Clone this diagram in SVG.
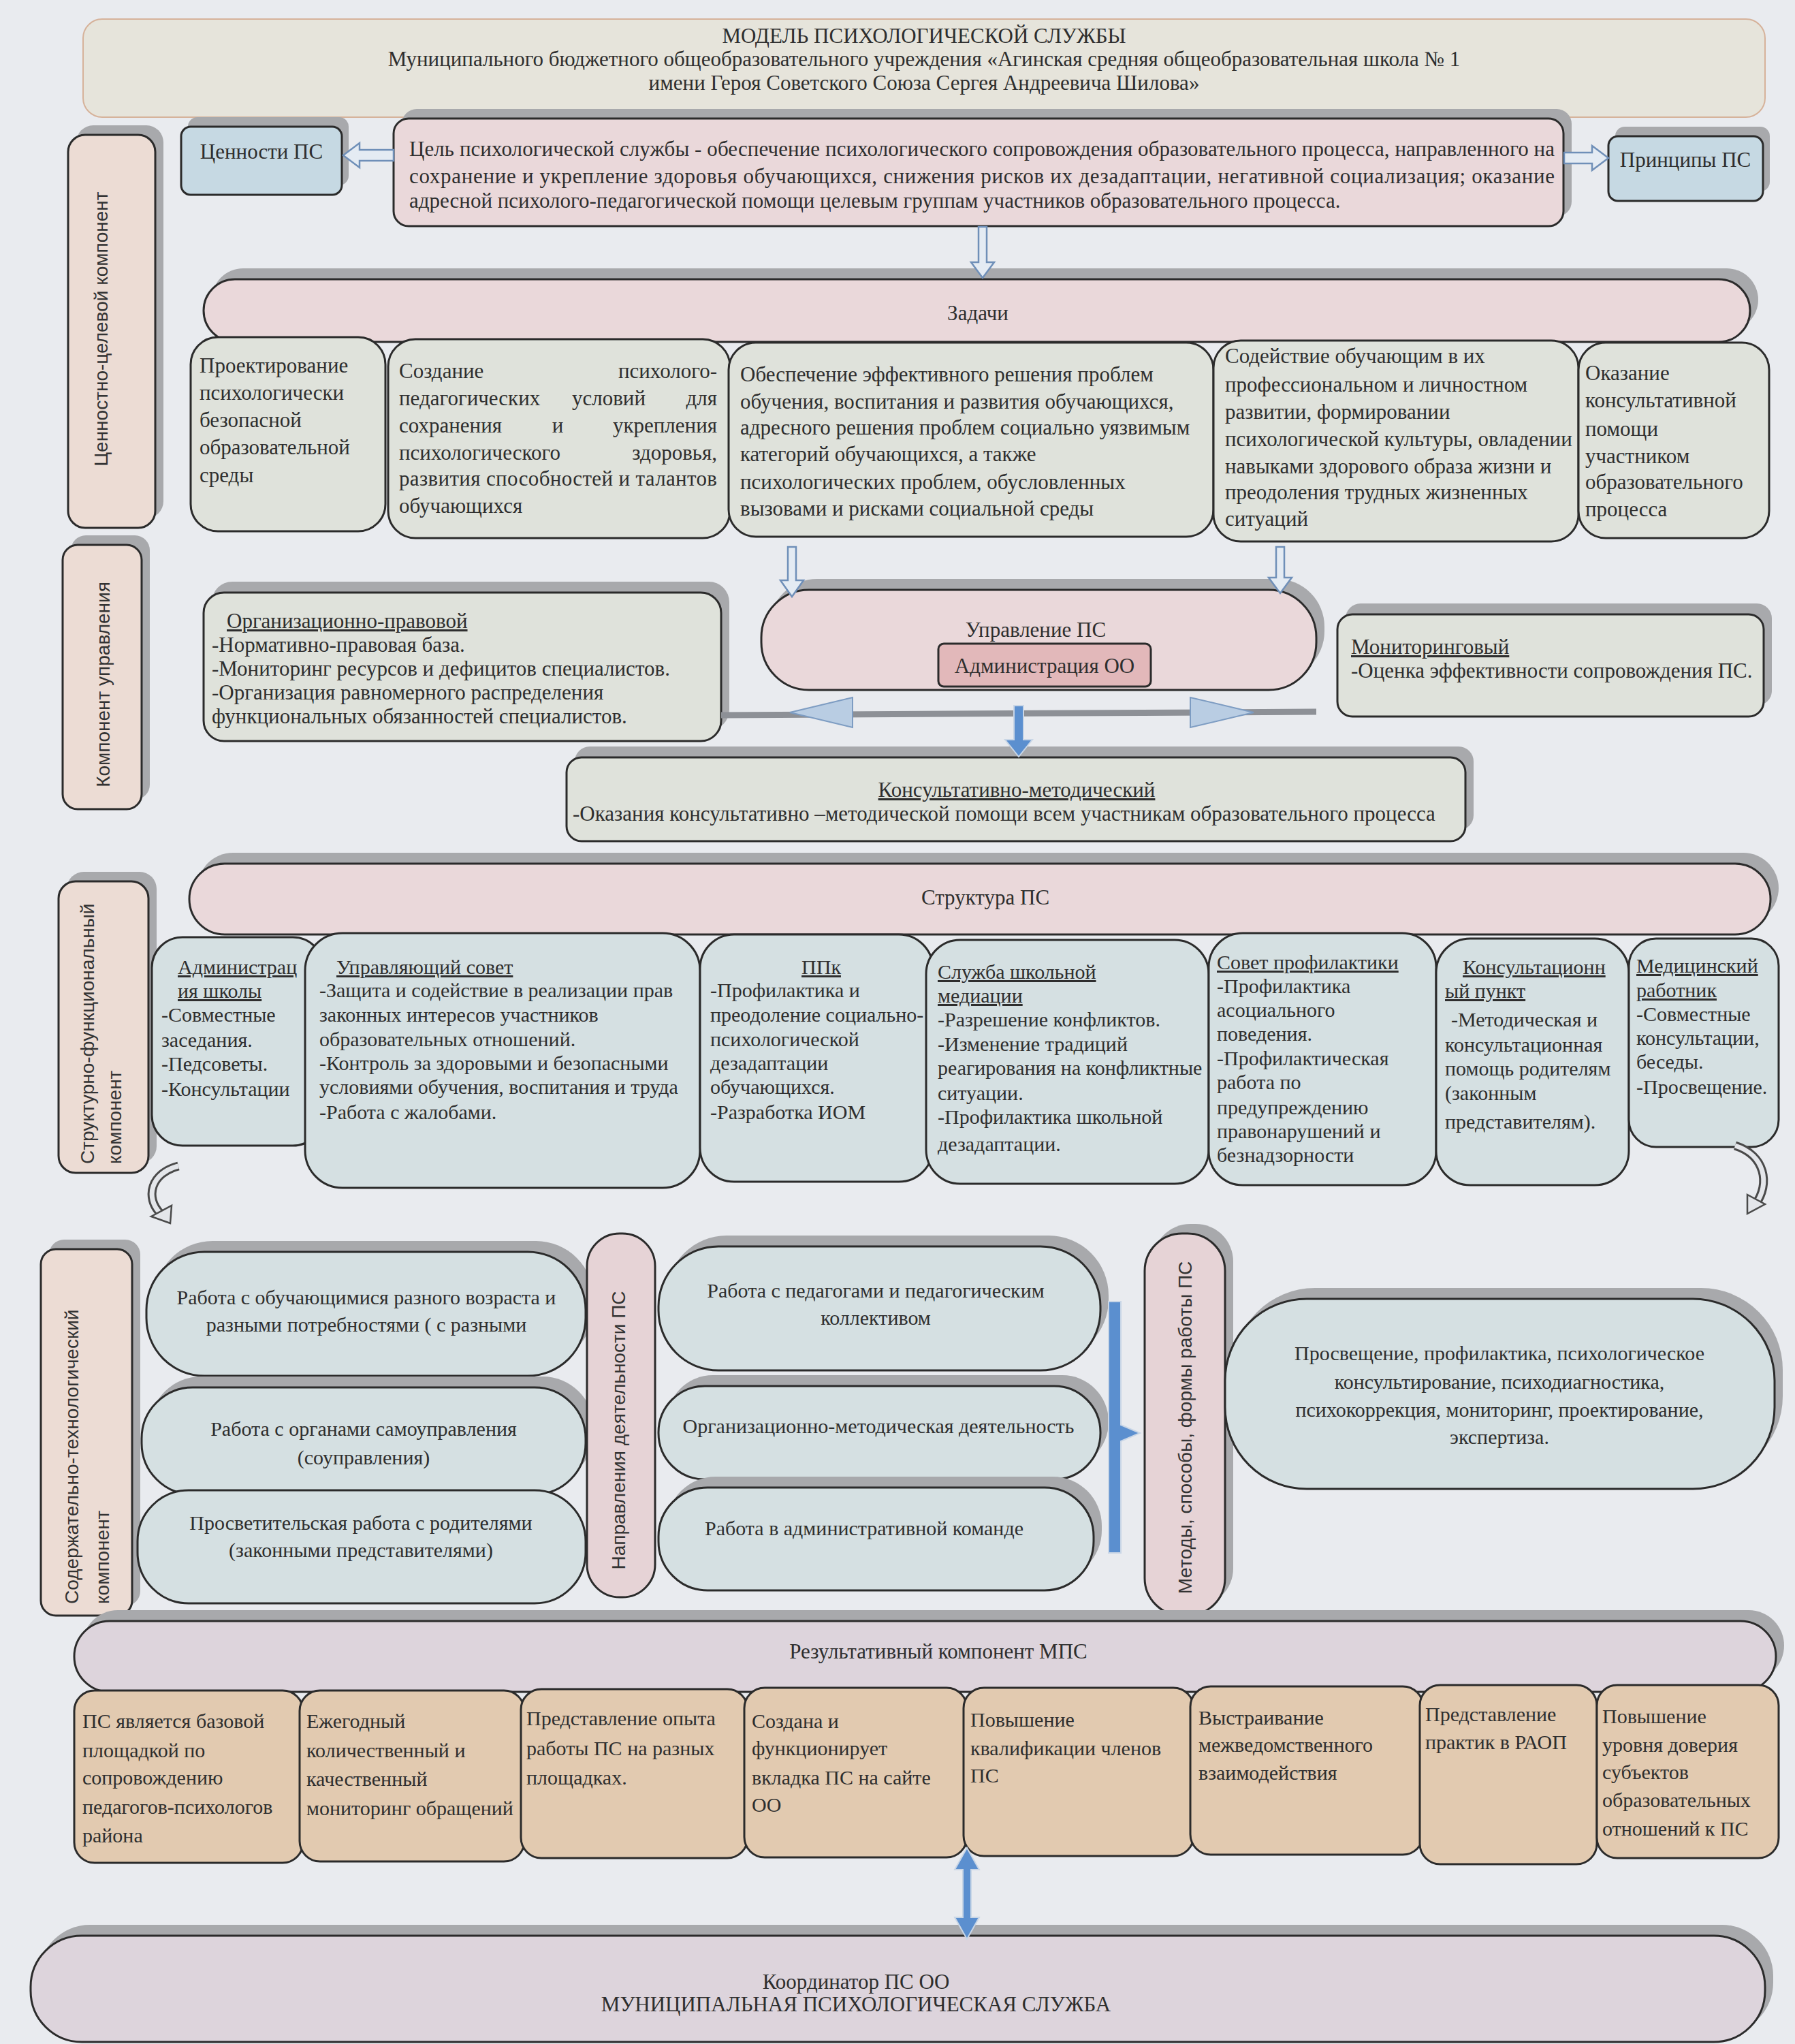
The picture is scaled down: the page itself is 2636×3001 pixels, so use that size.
<svg xmlns="http://www.w3.org/2000/svg" width="2636" height="3001" viewBox="0 0 2636 3001">
<style>
.t{font-family:"Liberation Serif","Times New Roman",serif;font-size:31px;fill:#2e2e2e}
.s{font-size:30px}
.c{text-anchor:middle}
.e{text-anchor:end}
.u{text-decoration:underline}
.v{font-family:"Liberation Sans",Arial,sans-serif;font-size:28px;fill:#333}
.m{text-anchor:middle}
.sh{fill:#a8a9ac}
.b{stroke:#2b2b2b;stroke-width:3}
.hd{fill:#e6e4db;stroke:#d6b29a;stroke-width:2}
.pk{fill:#ead8da}
.bl{fill:#c6d9e3}
.gr{fill:#dfe2db}
.cy{fill:#d5e0e2}
.lb{fill:#ecdcd4}
.lp{fill:#e6d3d6}
.pe{fill:#e2cab0}
.rb{fill:#ddd4dc}
.ad{fill:#e2b8ba}
.arh{fill:#e4ebf3;stroke:#6f8fb8;stroke-width:2.5}
.ab{fill:#5b8fcf;stroke:#c9d6e6;stroke-width:2}
</style>
<rect x="0" y="0" width="2636" height="3001" fill="#e9ebef"/>

<g id="header">
<rect class="hd" x="122" y="28" width="2470" height="144" rx="28"/>
<text class="t c" x="1357" y="63">МОДЕЛЬ ПСИХОЛОГИЧЕСКОЙ СЛУЖБЫ</text>
<text class="t c" x="1357" y="97">Муниципального бюджетного общеобразовательного учреждения «Агинская средняя общеобразовательная школа № 1</text>
<text class="t c" x="1357" y="132">имени Героя Советского Союза Сергея Андреевича Шилова»</text>
</g>

<g id="label-value">
<rect class="sh" x="112" y="184" width="128" height="577" rx="25"/>
<rect class="b lb" x="100" y="198" width="128" height="577" rx="25"/>
<text class="v m" transform="translate(158,483) rotate(-90)">Ценностно-целевой компонент</text>
</g>

<g id="values">
<rect class="sh" x="276" y="172" width="236" height="100" rx="14"/>
<rect class="b bl" x="266" y="186" width="236" height="100" rx="14"/>
<text class="t c" x="384" y="233">Ценности ПС</text>
</g>

<g id="goal">
<rect class="sh" x="590" y="160" width="1718" height="158" rx="22"/>
<rect class="b pk" x="578" y="174" width="1718" height="158" rx="22"/>
<text class="t" x="601" y="229" textLength="1682" lengthAdjust="spacing">Цель психологической службы - обеспечение психологического сопровождения образовательного процесса, направленного на</text>
<text class="t" x="601" y="269" textLength="1682" lengthAdjust="spacing">сохранение и укрепление здоровья обучающихся, снижения рисков их дезадаптации, негативной социализация; оказание</text>
<text class="t" x="601" y="305">адресной психолого-педагогической помощи целевым группам участников образовательного процесса.</text>
</g>

<g id="principles">
<rect class="sh" x="2372" y="186" width="227" height="95" rx="14"/>
<rect class="b bl" x="2362" y="200" width="227" height="95" rx="14"/>
<text class="t c" x="2475" y="245">Принципы ПС</text>
</g>

<g id="tasks-bar">
<rect class="sh" x="311" y="394" width="2271" height="92" rx="46"/>
<rect class="b pk" x="299" y="410" width="2271" height="92" rx="46"/>
<text class="t c" x="1436" y="470">Задачи</text>
</g>

<g id="task1">
<rect class="b gr" x="280" y="495" width="286" height="285" rx="40"/>
<text class="t" x="293" y="547">Проектирование</text>
<text class="t" x="293" y="587">психологически</text>
<text class="t" x="293" y="627">безопасной</text>
<text class="t" x="293" y="667">образовательной</text>
<text class="t" x="293" y="708">среды</text>
</g>

<g id="task2">
<rect class="b gr" x="570" y="498" width="502" height="292" rx="40"/>
<text class="t" x="586" y="555">Создание</text><text class="t e" x="1053" y="555">психолого-</text>
<text class="t" x="586" y="595">педагогических</text><text class="t c" x="894" y="595">условий</text><text class="t e" x="1053" y="595">для</text>
<text class="t" x="586" y="635">сохранения</text><text class="t c" x="819" y="635">и</text><text class="t e" x="1053" y="635">укрепления</text>
<text class="t" x="586" y="675">психологического</text><text class="t e" x="1053" y="675">здоровья,</text>
<text class="t" x="586" y="713" textLength="467" lengthAdjust="spacing">развития способностей и талантов</text>
<text class="t" x="586" y="753">обучающихся</text>
</g>

<g id="task3">
<rect class="b gr" x="1070" y="503" width="712" height="285" rx="40"/>
<text class="t" x="1087" y="560">Обеспечение эффективного решения проблем</text>
<text class="t" x="1087" y="600">обучения, воспитания и развития обучающихся,</text>
<text class="t" x="1087" y="638">адресного решения проблем социально уязвимым</text>
<text class="t" x="1087" y="677">категорий обучающихся, а также</text>
<text class="t" x="1087" y="718">психологических проблем, обусловленных</text>
<text class="t" x="1087" y="757">вызовами и рисками социальной среды</text>
</g>

<g id="task4">
<rect class="b gr" x="1782" y="500" width="536" height="295" rx="40"/>
<text class="t" x="1799" y="533">Содействие обучающим в их</text>
<text class="t" x="1799" y="575">профессиональном и личностном</text>
<text class="t" x="1799" y="615">развитии, формировании</text>
<text class="t" x="1799" y="655">психологической культуры, овладении</text>
<text class="t" x="1799" y="695">навыками здорового образа жизни и</text>
<text class="t" x="1799" y="733">преодоления трудных жизненных</text>
<text class="t" x="1799" y="772">ситуаций</text>
</g>

<g id="task5">
<rect class="b gr" x="2318" y="503" width="280" height="287" rx="40"/>
<text class="t" x="2328" y="558">Оказание</text>
<text class="t" x="2328" y="598">консультативной</text>
<text class="t" x="2328" y="640">помощи</text>
<text class="t" x="2328" y="680">участником</text>
<text class="t" x="2328" y="718">образовательного</text>
<text class="t" x="2328" y="758">процесса</text>
</g>

<g id="label-management">
<rect class="sh" x="104" y="786" width="116" height="388" rx="22"/>
<rect class="b lb" x="92" y="800" width="116" height="388" rx="22"/>
<text class="v m" transform="translate(161,1005) rotate(-90)">Компонент управления</text>
</g>

<g id="org-legal">
<rect class="sh" x="311" y="854" width="760" height="218" rx="30"/>
<rect class="b gr" x="299" y="870" width="760" height="218" rx="30"/>
<text class="t u" x="333" y="922">Организационно-правовой</text>
<text class="t" x="311" y="957">-Нормативно-правовая база.</text>
<text class="t" x="311" y="992">-Мониторинг ресурсов и дефицитов специалистов.</text>
<text class="t" x="311" y="1027">-Организация равномерного распределения</text>
<text class="t" x="311" y="1062">функциональных обязанностей  специалистов.</text>
</g>

<g id="management">
<rect class="sh" x="1130" y="850" width="815" height="147" rx="70"/>
<rect class="b pk" x="1118" y="866" width="815" height="147" rx="70"/>
<text class="t c" x="1521" y="935">Управление ПС</text>
<rect class="b ad" x="1378" y="945" width="312" height="63" rx="8"/>
<text class="t c" x="1534" y="988">Администрация ОО</text>
</g>

<g id="monitoring">
<rect class="sh" x="1976" y="886" width="626" height="150" rx="22"/>
<rect class="b gr" x="1964" y="902" width="626" height="150" rx="22"/>
<text class="t u" x="1984" y="960">Мониторинговый</text>
<text class="t" x="1984" y="995">-Оценка эффективности  сопровождения ПС.</text>
</g>

<g id="consulting">
<rect class="sh" x="844" y="1096" width="1320" height="123" rx="22"/>
<rect class="b gr" x="832" y="1112" width="1320" height="123" rx="22"/>
<text class="t c u" x="1493" y="1170">Консультативно-методический</text>
<text class="t" x="841" y="1205">-Оказания консультативно –методической помощи всем участникам образовательного процесса</text>
</g>

<g id="label-structure">
<rect class="sh" x="98" y="1280" width="132" height="428" rx="25"/>
<rect class="b lb" x="86" y="1294" width="132" height="428" rx="25"/>
<text class="v" transform="translate(138,1709) rotate(-90)">Структурно-функциональный</text>
<text class="v" transform="translate(178,1709) rotate(-90)">компонент</text>
</g>

<g id="structure-bar">
<rect class="sh" x="290" y="1252" width="2322" height="104" rx="52"/>
<rect class="b pk" x="278" y="1268" width="2322" height="104" rx="52"/>
<text class="t c" x="1447" y="1328">Структура  ПС</text>
</g>

<g id="s-admin">
<rect class="b cy" x="223" y="1376" width="252" height="306" rx="45"/>
<text class="t s u" x="261" y="1430">Администрац</text>
<text class="t s u" x="261" y="1465">ия школы</text>
<text class="t s" x="237" y="1500">-Совместные</text>
<text class="t s" x="237" y="1537">заседания.</text>
<text class="t s" x="237" y="1572">-Педсоветы.</text>
<text class="t s" x="237" y="1609">-Консультации</text>
</g>

<g id="s-council">
<rect class="b cy" x="448" y="1370" width="580" height="374" rx="55"/>
<text class="t s u" x="494" y="1430">Управляющий совет</text>
<text class="t s" x="469" y="1464">-Защита и содействие в реализации прав</text>
<text class="t s" x="469" y="1500">законных интересов участников</text>
<text class="t s" x="469" y="1536">образовательных отношений.</text>
<text class="t s" x="469" y="1571">-Контроль за здоровыми и безопасными</text>
<text class="t s" x="469" y="1606">условиями обучения, воспитания и труда</text>
<text class="t s" x="469" y="1643">-Работа с жалобами.</text>
</g>

<g id="s-ppk">
<rect class="b cy" x="1028" y="1372" width="342" height="363" rx="50"/>
<text class="t s c u" x="1206" y="1430">ППк</text>
<text class="t s" x="1043" y="1464">-Профилактика и</text>
<text class="t s" x="1043" y="1500">преодоление социально-</text>
<text class="t s" x="1043" y="1536">психологической</text>
<text class="t s" x="1043" y="1571">дезадаптации</text>
<text class="t s" x="1043" y="1606">обучающихся.</text>
<text class="t s" x="1043" y="1643">-Разработка ИОМ</text>
</g>

<g id="s-mediation">
<rect class="b cy" x="1360" y="1380" width="415" height="358" rx="50"/>
<text class="t s u" x="1377" y="1437">Служба школьной</text>
<text class="t s u" x="1377" y="1472">медиации</text>
<text class="t s" x="1377" y="1507">-Разрешение конфликтов.</text>
<text class="t s" x="1377" y="1543">-Изменение традиций</text>
<text class="t s" x="1377" y="1578">реагирования на конфликтные</text>
<text class="t s" x="1377" y="1615">ситуации.</text>
<text class="t s" x="1377" y="1650">-Профилактика школьной</text>
<text class="t s" x="1377" y="1690">дезадаптации.</text>
</g>

<g id="s-prevention">
<rect class="b cy" x="1775" y="1370" width="334" height="370" rx="50"/>
<text class="t s u" x="1787" y="1423">Совет профилактики</text>
<text class="t s" x="1787" y="1458">-Профилактика</text>
<text class="t s" x="1787" y="1493">асоциального</text>
<text class="t s" x="1787" y="1528">поведения.</text>
<text class="t s" x="1787" y="1564">-Профилактическая</text>
<text class="t s" x="1787" y="1599">работа по</text>
<text class="t s" x="1787" y="1636">предупреждению</text>
<text class="t s" x="1787" y="1671">правонарушений и</text>
<text class="t s" x="1787" y="1706">безнадзорности</text>
</g>

<g id="s-consult-point">
<rect class="b cy" x="2109" y="1378" width="283" height="362" rx="50"/>
<text class="t s u" x="2148" y="1430">Консультационн</text>
<text class="t s u" x="2122" y="1465">ый пункт</text>
<text class="t s" x="2131" y="1507">-Методическая и</text>
<text class="t s" x="2122" y="1544">консультационная</text>
<text class="t s" x="2122" y="1579">помощь родителям</text>
<text class="t s" x="2122" y="1615">(законным</text>
<text class="t s" x="2122" y="1657">представителям).</text>
</g>

<g id="s-medical">
<rect class="b cy" x="2392" y="1378" width="220" height="306" rx="40"/>
<text class="t s u" x="2403" y="1428">Медицинский</text>
<text class="t s u" x="2403" y="1464">работник</text>
<text class="t s" x="2403" y="1499">-Совместные</text>
<text class="t s" x="2403" y="1534">консультации,</text>
<text class="t s" x="2403" y="1569">беседы.</text>
<text class="t s" x="2403" y="1606">-Просвещение.</text>
</g>

<g id="label-content">
<rect class="sh" x="72" y="1820" width="134" height="538" rx="22"/>
<rect class="b lb" x="60" y="1834" width="134" height="538" rx="22"/>
<text class="v" transform="translate(115,2355) rotate(-90)">Содержательно-технологический</text>
<text class="v" transform="translate(160,2355) rotate(-90)">компонент</text>
</g>

<g id="c-students">
<rect class="sh" x="227" y="1822" width="645" height="182" rx="85"/>
<rect class="b cy" x="215" y="1838" width="645" height="182" rx="85"/>
<text class="t s c" x="538" y="1915">Работа с обучающимися разного возраста  и</text>
<text class="t s c" x="538" y="1955">разными  потребностями ( с разными</text>
</g>

<g id="c-selfgov">
<rect class="sh" x="220" y="2021" width="652" height="157" rx="75"/>
<rect class="b cy" x="208" y="2037" width="652" height="157" rx="75"/>
<text class="t s c" x="534" y="2108">Работа с органами самоуправления</text>
<text class="t s c" x="534" y="2150">(соуправления)</text>
</g>

<g id="c-parents">
<rect class="b cy" x="202" y="2188" width="658" height="166" rx="75"/>
<text class="t s c" x="530" y="2246">Просветительская работа с родителями</text>
<text class="t s c" x="530" y="2286">(законными представителями)</text>
</g>

<g id="directions">
<rect class="b lp" x="862" y="1811" width="100" height="534" rx="48"/>
<text class="v m" transform="translate(918,2100) rotate(-90)">Направления деятельности  ПС</text>
</g>

<g id="c-teachers">
<rect class="sh" x="979" y="1814" width="649" height="182" rx="88"/>
<rect class="b cy" x="967" y="1830" width="649" height="182" rx="88"/>
<text class="t s c" x="1286" y="1905">Работа с педагогами и педагогическим</text>
<text class="t s c" x="1286" y="1945">коллективом</text>
</g>

<g id="c-orgmethod">
<rect class="sh" x="979" y="2019" width="649" height="137" rx="68"/>
<rect class="b cy" x="967" y="2035" width="649" height="137" rx="68"/>
<text class="t s c" x="1290" y="2104">Организационно-методическая деятельность</text>
</g>

<g id="c-adminteam">
<rect class="sh" x="979" y="2168" width="639" height="151" rx="72"/>
<rect class="b cy" x="967" y="2184" width="639" height="151" rx="72"/>
<text class="t s c" x="1269" y="2254">Работа в административной команде</text>
</g>

<g id="methods">
<rect class="sh" x="1693" y="1797" width="118" height="561" rx="55"/>
<rect class="b lp" x="1681" y="1811" width="118" height="561" rx="55"/>
<text class="v m" transform="translate(1750,2096) rotate(-90)">Методы, способы, формы  работы ПС</text>
</g>

<g id="methods-list">
<rect class="sh" x="1811" y="1891" width="807" height="279" rx="120"/>
<rect class="b cy" x="1799" y="1907" width="807" height="279" rx="120"/>
<text class="t s c" x="2202" y="1997">Просвещение, профилактика, психологическое</text>
<text class="t s c" x="2202" y="2039">консультирование, психодиагностика,</text>
<text class="t s c" x="2202" y="2080">психокоррекция, мониторинг, проектирование,</text>
<text class="t s c" x="2202" y="2120">экспертиза.</text>
</g>

<g id="results-bar">
<rect class="sh" x="121" y="2364" width="2499" height="104" rx="52"/>
<rect class="b rb" x="109" y="2380" width="2499" height="104" rx="52"/>
<text class="t c" x="1378" y="2435">Результативный компонент МПС</text>
</g>

<g id="r1">
<rect class="b pe" x="109" y="2482" width="336" height="253" rx="30"/>
<text class="t s" x="121" y="2537">ПС является базовой</text>
<text class="t s" x="121" y="2580">площадкой по</text>
<text class="t s" x="121" y="2620">сопровождению</text>
<text class="t s" x="121" y="2663">педагогов-психологов</text>
<text class="t s" x="121" y="2705">района</text>
</g>
<g id="r2">
<rect class="b pe" x="440" y="2482" width="330" height="251" rx="30"/>
<text class="t s" x="450" y="2537">Ежегодный</text>
<text class="t s" x="450" y="2580">количественный и</text>
<text class="t s" x="450" y="2622">качественный</text>
<text class="t s" x="450" y="2665">мониторинг обращений</text>
</g>
<g id="r3">
<rect class="b pe" x="765" y="2480" width="333" height="248" rx="30"/>
<text class="t s" x="773" y="2533">Представление опыта</text>
<text class="t s" x="773" y="2577">работы ПС на разных</text>
<text class="t s" x="773" y="2620">площадках.</text>
</g>
<g id="r4">
<rect class="b pe" x="1093" y="2478" width="327" height="249" rx="30"/>
<text class="t s" x="1104" y="2537">Создана и</text>
<text class="t s" x="1104" y="2577">функционирует</text>
<text class="t s" x="1104" y="2620">вкладка ПС  на сайте</text>
<text class="t s" x="1104" y="2660">ОО</text>
</g>
<g id="r5">
<rect class="b pe" x="1415" y="2478" width="338" height="247" rx="30"/>
<text class="t s" x="1425" y="2535">Повышение</text>
<text class="t s" x="1425" y="2577">квалификации членов</text>
<text class="t s" x="1425" y="2617">ПС</text>
</g>
<g id="r6">
<rect class="b pe" x="1748" y="2476" width="342" height="247" rx="30"/>
<text class="t s" x="1760" y="2532">Выстраивание</text>
<text class="t s" x="1760" y="2572">межведомственного</text>
<text class="t s" x="1760" y="2613">взаимодействия</text>
</g>
<g id="r7">
<rect class="b pe" x="2085" y="2474" width="260" height="263" rx="30"/>
<text class="t s" x="2093" y="2527">Представление</text>
<text class="t s" x="2093" y="2568">практик в РАОП</text>
</g>
<g id="r8">
<rect class="b pe" x="2345" y="2474" width="267" height="254" rx="30"/>
<text class="t s" x="2353" y="2530">Повышение</text>
<text class="t s" x="2353" y="2572">уровня доверия</text>
<text class="t s" x="2353" y="2612">субъектов</text>
<text class="t s" x="2353" y="2653">образовательных</text>
<text class="t s" x="2353" y="2695">отношений к ПС</text>
</g>

<g id="coordinator">
<rect class="sh" x="57" y="2826" width="2547" height="160" rx="75"/>
<rect class="b rb" x="45" y="2842" width="2547" height="156" rx="75"/>
<text class="t c" x="1257" y="2920">Координатор ПС ОО</text>
<text class="t c" x="1257" y="2953">МУНИЦИПАЛЬНАЯ ПСИХОЛОГИЧЕСКАЯ СЛУЖБА</text>
</g>

<g id="connectors">
<polygon class="arh" points="504,228 528,210 528,220 578,220 578,236 528,236 528,246"/>
<polygon class="arh" points="2362,232 2338,214 2338,224 2297,224 2297,240 2338,240 2338,250"/>
<polygon class="arh" points="1437,333 1449,333 1449,385 1460,385 1443,408 1426,385 1437,385"/>
<polygon class="arh" points="1157,803 1169,803 1169,852 1180,852 1163,876 1146,852 1157,852"/>
<polygon class="arh" points="1874,803 1886,803 1886,848 1897,848 1880,871 1863,848 1874,848"/>
<line x1="1059" y1="1050" x2="1933" y2="1045" stroke="#8d9096" stroke-width="9"/>
<polygon points="1160,1046 1252,1024 1252,1068" fill="#b9cde3" stroke="#7d9cc2" stroke-width="2"/>
<polygon points="1841,1046 1748,1024 1748,1068" fill="#b9cde3" stroke="#7d9cc2" stroke-width="2"/>
<polygon class="ab" points="1489,1036 1503,1036 1503,1086 1516,1086 1496,1111 1476,1086 1489,1086"/>
<path class="ab" d="M1628,1911 H1646 V2092 L1674,2104 L1646,2116 V2280 H1628 Z"/>
<polygon class="ab" points="1420,2713 1438,2745 1426,2745 1426,2815 1438,2815 1420,2847 1402,2815 1414,2815 1414,2745 1402,2745"/>
<path d="M262,1712 C222,1722 212,1758 236,1782" fill="none" stroke="#4a4a4a" stroke-width="13"/>
<path d="M262,1712 C222,1722 212,1758 236,1782" fill="none" stroke="#e4e6ea" stroke-width="7"/>
<polygon points="222,1786 252,1770 250,1796" fill="#e4e6ea" stroke="#4a4a4a" stroke-width="2.5"/>
<path d="M2548,1682 C2592,1696 2600,1738 2578,1768" fill="none" stroke="#4a4a4a" stroke-width="13"/>
<path d="M2548,1682 C2592,1696 2600,1738 2578,1768" fill="none" stroke="#e4e6ea" stroke-width="7"/>
<polygon points="2566,1782 2566,1754 2592,1768" fill="#e4e6ea" stroke="#4a4a4a" stroke-width="2.5"/>
</g>
</svg>
